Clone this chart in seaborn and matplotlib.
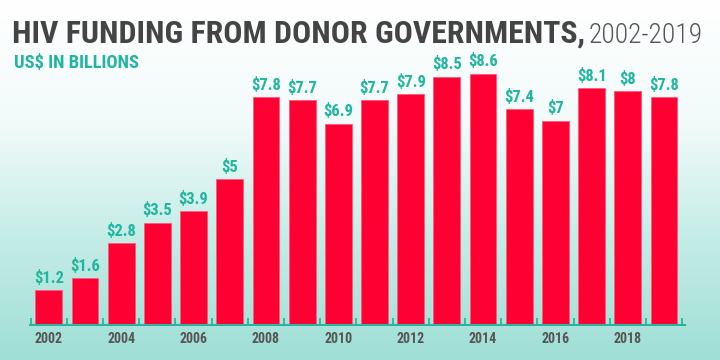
import numpy as np
import pandas as pd
import matplotlib
matplotlib.use("Agg")
import matplotlib.pyplot as plt
import seaborn as sns
from matplotlib.colors import LinearSegmentedColormap
from matplotlib import font_manager

years = [2002, 2003, 2004, 2005, 2006, 2007, 2008, 2009, 2010, 2011,
         2012, 2013, 2014, 2015, 2016, 2017, 2018, 2019]
values = [1.2, 1.6, 2.8, 3.5, 3.9, 5.0, 7.8, 7.7, 6.9, 7.7,
          7.9, 8.5, 8.6, 7.4, 7.0, 8.1, 8.0, 7.8]
labels = ["$1.2", "$1.6", "$2.8", "$3.5", "$3.9", "$5", "$7.8", "$7.7", "$6.9", "$7.7",
          "$7.9", "$8.5", "$8.6", "$7.4", "$7", "$8.1", "$8", "$7.8"]
tick_years = ["2002", "", "2004", "", "2006", "", "2008", "", "2010", "",
              "2012", "", "2014", "", "2016", "", "2018", ""]

sns.set_theme(style="white")

# pick a condensed family (with a bold weight) if one is installed
fonts = font_manager.fontManager.ttflist
cond = {}
for f in fonts:
    if "Condensed" in f.name or "Narrow" in f.name:
        w = f.weight if isinstance(f.weight, int) else font_manager.weight_dict.get(f.weight, 400)
        cond.setdefault(f.name, set()).add(w)
with_bold = [n for n, ws in cond.items() if max(ws) >= 700]
pref = ["Roboto Condensed", "Open Sans Condensed", "Liberation Sans Narrow"]
FAM = next((p for p in pref if p in with_bold), None)
if FAM is None:
    FAM = sorted(with_bold)[0] if with_bold else (sorted(cond)[0] if cond else "DejaVu Sans")
plt.rcParams['font.family'] = [FAM, 'DejaVu Sans']
STRETCH = "condensed"

fig = plt.figure(figsize=(7.2, 3.6), dpi=100)

# gradient background
bg = fig.add_axes([0, 0, 1, 1], zorder=0)
cmap = LinearSegmentedColormap.from_list("bg", ["#ffffff", "#f2fbfa", "#c4ece6", "#9fdfd6"])
grad = np.linspace(0, 1, 256).reshape(-1, 1)
bg.imshow(grad, aspect="auto", cmap=cmap, extent=[0, 1, 0, 1], origin="upper")
bg.set_axis_off()

ax = fig.add_axes([30/720, 35/360, 655/720, 292/360], zorder=1)
ax.patch.set_alpha(0)
df = pd.DataFrame({"year": [str(y) for y in years], "value": values})
sns.barplot(data=df, x="year", y="value", color="#ff0033", width=0.74,
            saturation=1, ax=ax, edgecolor="#ff5a78", linewidth=0.6)

ax.set_xlim(-0.52, 17.58)
ax.set_ylim(0, 10)
ax.set_xlabel("")
ax.set_ylabel("")
ax.set_yticks([])
for s in ["top", "right", "left"]:
    ax.spines[s].set_visible(False)
ax.spines["bottom"].set_color("#2bb5a0")
ax.spines["bottom"].set_linewidth(1.5)

ax.set_xticks(np.arange(-0.5, 18, 1), minor=True)
ax.tick_params(axis="x", which="minor", direction="in", length=5, width=1.3,
               color="#2bb5a0", bottom=True)
ax.set_xticks(range(len(years)))
ax.set_xticklabels(tick_years, fontsize=13, color="#555555", fontweight="bold",
                   fontstretch=STRETCH)
ax.tick_params(axis="x", which="major", length=0, pad=5)

vtexts = []
for i, (v, lab) in enumerate(zip(values, labels)):
    vtexts.append(ax.text(i, v + 0.15, lab, ha="center", va="bottom", fontsize=14,
                          fontweight="bold", color="#1fb59e", fontstretch=STRETCH))

t1 = fig.text(12/720, 1 - 43/360, "HIV FUNDING FROM DONOR GOVERNMENTS,", fontsize=34,
              fontweight="bold", color="#444444", ha="left", va="baseline", fontstretch=STRETCH)
t2 = fig.text(703/720, 1 - 43/360, "2002-2019", fontsize=34, fontweight="light",
              color="#555555", ha="right", va="baseline", fontstretch=STRETCH)
t3 = fig.text(14/720, 1 - 68/360, "US$ IN BILLIONS", fontsize=17,
              fontweight="bold", color="#1fb59e", ha="left", va="baseline", fontstretch=STRETCH)

# shrink texts to fit the widths seen in the reference
fig.canvas.draw()
r = fig.canvas.get_renderer()
for t, w in [(t1, 573), (t2, 114), (t3, 126)]:
    cur = t.get_window_extent(r).width
    if cur > w:
        t.set_fontsize(t.get_fontsize() * w / cur)
wmax = max(t.get_window_extent(r).width for t in vtexts)
if wmax > 30:
    for t in vtexts:
        t.set_fontsize(t.get_fontsize() * 30 / wmax)
for t in ax.get_xticklabels():
    cur = t.get_window_extent(r).width
    if cur > 28:
        t.set_fontsize(t.get_fontsize() * 28 / cur)

fig.savefig("out.png", dpi=100)
